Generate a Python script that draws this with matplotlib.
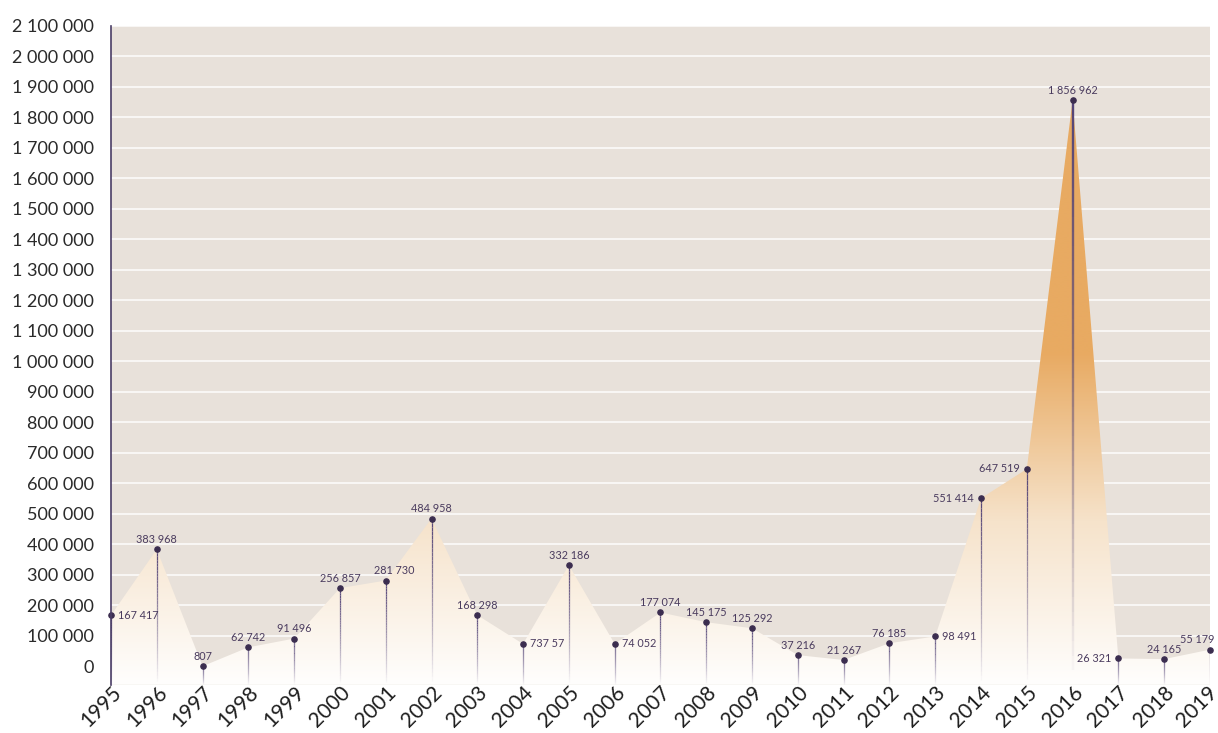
import numpy as np
import matplotlib.pyplot as plt
from matplotlib.collections import LineCollection
from matplotlib.colors import LinearSegmentedColormap
from matplotlib.patches import Polygon
from matplotlib.transforms import ScaledTranslation

plt.rcParams['font.family'] = ['Lato', 'DejaVu Sans']

years = list(range(1995, 2020))
values = [167417, 383968, 807, 62742, 91496, 256857, 281730, 484958, 168298,
          73757, 332186, 74052, 177074, 145175, 125292, 37216, 21267, 76185,
          98491, 551414, 647519, 1856962, 26321, 24165, 55179]
point_labels = ['167 417', '383 968', '807', '62 742', '91 496', '256 857',
                '281 730', '484 958', '168 298', '737 57', '332 186', '74 052',
                '177 074', '145 175', '125 292', '37 216', '21 267', '76 185',
                '98 491', '551 414', '647 519', '1 856 962', '26 321', '24 165',
                '55 179']
# where each value label sits relative to its dot
label_side = ['right', 'top', 'top', 'top', 'top', 'top', 'top_r', 'top',
              'top', 'right', 'top', 'right', 'top', 'top', 'top', 'top', 'top',
              'top', 'right', 'left', 'left', 'top', 'left', 'top', 'top_l']
y_ticks = list(range(0, 2100001, 100000))
y_tick_labels = ['{:,}'.format(v).replace(',', ' ') for v in y_ticks]

bg = '#e8e1da'
orange = '#e8aa62'
stem_col = np.array([0.33, 0.27, 0.47])
dot_col = '#3b2d4f'
text_col = '#4a3b5e'
ymin, ymax = -60000, 2100000

fig = plt.figure(figsize=(12.18, 7.33), dpi=100)
ax = fig.add_axes([0.0911, 0.0658, 0.9023, 0.8988])
ax.set_facecolor(bg)
ax.set_xlim(years[0], years[-1])
ax.set_ylim(ymin, ymax)

# white horizontal grid
for t in y_ticks:
    ax.axhline(t, color='white', lw=1.2, alpha=0.85, zorder=1)

# area with vertical gradient, clipped to the polygon
verts = [(years[0], ymin)] + list(zip(years, values)) + [(years[-1], ymin)]
poly = Polygon(verts, closed=True, facecolor='none', edgecolor='none')
ax.add_patch(poly)
rows = np.linspace(ymin, max(values), 600)
frac = np.clip((rows + 80000) / 1110000, 0, 1)
grad = frac[:, None] * np.ones((1, 2))
cmap = LinearSegmentedColormap.from_list('wo', ['#ffffff', '#f6e3cb', orange])
img = ax.imshow(grad, cmap=cmap, vmin=0, vmax=1, origin='lower', aspect='auto',
                extent=[years[0], years[-1], ymin, max(values)], zorder=2,
                interpolation='bilinear')
img.set_clip_path(poly)

# stems fading toward the bottom
for x, v in zip(years, values):
    n = 40
    ys = np.linspace(ymin, v, n + 1)
    segs = [[(x, ys[i]), (x, ys[i + 1])] for i in range(n)]
    a = np.linspace(0, 1, n) ** 0.9
    cols = np.column_stack([np.tile(stem_col, (n, 1)), a])
    lw = 1.7 if v == max(values) else 0.9
    ax.add_collection(LineCollection(segs, colors=cols, linewidths=lw,
                                     capstyle='butt', zorder=3))

ax.scatter(years, values, s=14, color=dot_col, zorder=4, clip_on=False)

for x, v, lab, side in zip(years, values, point_labels, label_side):
    if side == 'top':
        off, ha, va = (0, 3), 'center', 'bottom'
    elif side == 'top_r':
        off, ha, va = (6, 3), 'center', 'bottom'
    elif side == 'top_l':
        off, ha, va = (3, 3), 'right', 'bottom'
    elif side == 'right':
        off, ha, va = (5, 0), 'left', 'center'
    else:
        off, ha, va = (-5, 0), 'right', 'center'
    ax.annotate(lab, (x, v), xytext=off, textcoords='offset points',
                ha=ha, va=va, fontsize=7.8, color=text_col, zorder=5)

ax.set_yticks(y_ticks)
ax.set_yticklabels(y_tick_labels, fontsize=13, color='#2a2a2a')
ax.set_xticks(years)
ax.set_xticklabels([str(y) for y in years], rotation=45, ha='right', va='top',
                   rotation_mode='anchor', fontsize=15, color='#1e1e1e')
ax.tick_params(axis='both', length=0)
ax.tick_params(axis='y', pad=12)
ax.tick_params(axis='x', pad=-2)
# keep the last year label inside the figure edge
last = ax.get_xticklabels()[-1]
last.set_transform(last.get_transform() + ScaledTranslation(-3 / 100, 0, fig.dpi_scale_trans))

for s in ['top', 'right', 'bottom']:
    ax.spines[s].set_visible(False)
ax.spines['left'].set_color('#4a3d66')
ax.spines['left'].set_linewidth(1.2)
ax.spines['left'].set_zorder(6)

fig.savefig('out.png', dpi=100)
